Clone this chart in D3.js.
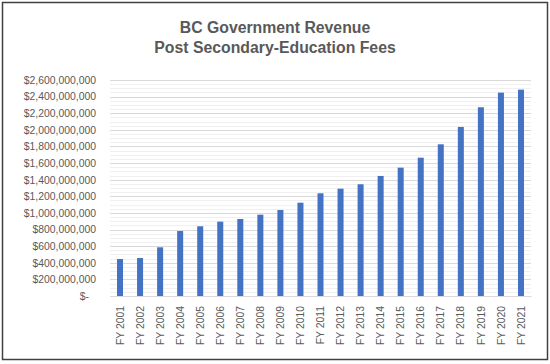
<!DOCTYPE html>
<html><head><meta charset="utf-8">
<script src="https://cdn.jsdelivr.net/npm/d3@7/dist/d3.min.js"></script>
<style>body{margin:0;background:#fff}svg{display:block}</style>
</head><body><svg id="c" width="550" height="364"></svg>
<script>
const categories = ["FY 2001","FY 2002","FY 2003","FY 2004","FY 2005","FY 2006","FY 2007","FY 2008","FY 2009","FY 2010","FY 2011","FY 2012","FY 2013","FY 2014","FY 2015","FY 2016","FY 2017","FY 2018","FY 2019","FY 2020","FY 2021"];
const revenue = [445e6,457e6,586e6,782e6,839e6,895e6,927e6,979e6,1035e6,1123e6,1236e6,1292e6,1345e6,1445e6,1545e6,1665e6,1826e6,2035e6,2272e6,2448e6,2484e6];
const yTicks = [0,200e6,400e6,600e6,800e6,1000e6,1200e6,1400e6,1600e6,1800e6,2000e6,2200e6,2400e6,2600e6];
const titleLines = ["BC Government Revenue","Post Secondary-Education Fees"];

(function(){
const svg = d3.select("#c");
const W = 550, H = 364;
svg.append("rect").attr("x",2.5).attr("y",2.5).attr("width",545).attr("height",357)
  .attr("fill","#fff").attr("stroke","#404040").attr("stroke-width",1.5);

const pl = 110, pr = 531, pt = 80, pb = 296;
const x = d3.scaleBand().domain(categories).range([pl,pr]).paddingInner(0.7).paddingOuter(0.35);
const y = d3.scaleLinear().domain([0,2600e6]).range([pb,pt]);

const minor = d3.range(0, 2600e6 + 1, 50e6).filter(v => v % 200e6 !== 0);
svg.append("g").selectAll("line").data(minor).join("line")
  .attr("x1",pl).attr("x2",pr).attr("y1",d=>Math.round(y(d))+0.5).attr("y2",d=>Math.round(y(d))+0.5)
  .attr("stroke","#f0f0f0").attr("stroke-width",1);
svg.append("g").selectAll("line").data(yTicks).join("line")
  .attr("x1",pl).attr("x2",pr).attr("y1",d=>Math.round(y(d))+0.5).attr("y2",d=>Math.round(y(d))+0.5)
  .attr("stroke","#d9d9d9").attr("stroke-width",1);

svg.append("g").selectAll("rect").data(revenue).join("rect")
  .attr("x",(d,i)=>x(categories[i])).attr("width",x.bandwidth())
  .attr("y",d=>y(d)).attr("height",d=>y(0)-y(d)).attr("fill","#4472C4");

const font = "'Liberation Sans', Arial, sans-serif";
const fmt = d => d === 0 ? "$-" : "$" + d3.format(",")(d);
const yAxis = d3.axisLeft(y).tickValues(yTicks).tickFormat(fmt).tickSize(0).tickPadding(0);
const gy = svg.append("g").attr("transform",`translate(${pl-14},0)`).call(yAxis);
gy.select(".domain").remove();
gy.selectAll("text").attr("font-family",font).attr("font-size","10.4px").attr("fill","#595959")
  .attr("dx", d => d === 0 ? -7 : 0);

const xAxis = d3.axisBottom(x).tickSize(0).tickPadding(0);
const gx = svg.append("g").attr("transform",`translate(0,${pb})`).call(xAxis);
gx.select(".domain").attr("stroke","#d9d9d9");
gx.selectAll("text").attr("font-family",font).attr("font-size","10.4px").attr("fill","#595959")
  .attr("transform","rotate(-90)").attr("text-anchor","end").attr("dy","0.35em").attr("dx","-10px").attr("y",0).attr("x",0);

svg.append("g").selectAll("text").data(titleLines).join("text")
  .attr("x",W/2).attr("y",(d,i)=>33 + i*19.5).attr("text-anchor","middle")
  .attr("font-family",font).attr("font-weight","bold").attr("font-size","15.8px").attr("fill","#595959")
  .text(d=>d);
})();
</script></body></html>
